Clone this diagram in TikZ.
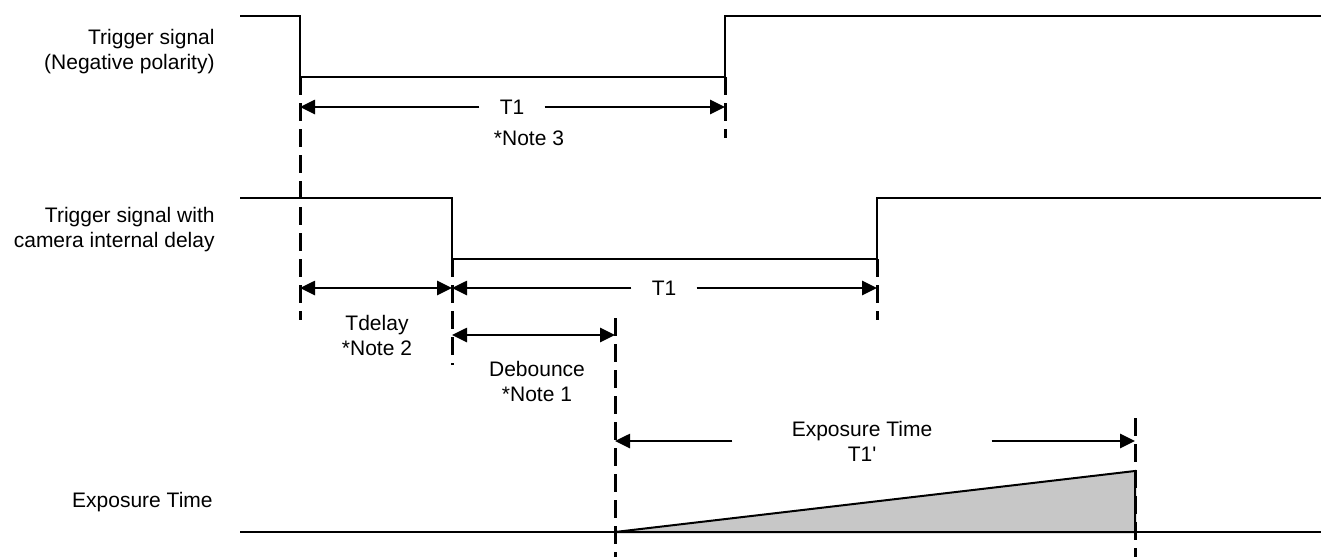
\documentclass[tikz,border=0pt]{standalone}
\usepackage{fontspec}
\setmainfont{Liberation Sans}[Ligatures=TeXOff]
\usetikzlibrary{positioning,arrows.meta}

\begin{document}
\begin{tikzpicture}[
  x=0.5pt, y=-0.5pt,
  font=\fontsize{10.5}{12.5}\selectfont,
  signal/.style={line width=1pt, line join=miter},
  marker/.style={line width=1.5pt, dash pattern=on 9pt off 4pt},
  dimarrow/.style={line width=1.3pt, -{Triangle[length=7.5pt, width=7pt]}},
  dimboth/.style={line width=1.3pt, {Triangle[length=7.5pt, width=7pt]}-{Triangle[length=7.5pt, width=7pt]}},
  lbl/.style={inner ysep=0pt, inner xsep=10pt, align=center},
  sigtitle/.style={anchor=east, inner sep=0pt, align=right}
]
\useasboundingbox (0,0) rectangle (1323,557);

% signal names
\node[sigtitle] (trig) at (215,52) {Trigger signal\\(Negative polarity)};
\node[sigtitle] (trigdelay) at (215,230) {Trigger signal with\\camera internal delay};
\node[sigtitle] (expo) at (213,502) {Exposure Time};

% waveforms
\draw[signal] (240,16) -| (300,77) -| (725,16) -- (1321,16);
\draw[signal] (240,198) -| (452,259) -| (877,198) -- (1321,198);
\draw[signal] (240,532) -- (1321,532);
\draw[signal, fill=black!22] (615,532) -- (1135,471) -- (1135,532) -- cycle;

% edges
\coordinate (fall1) at (300,77);
\coordinate (rise1) at (725,77);
\coordinate (fall2) at (452,259);
\coordinate (rise2) at (877,259);
\coordinate (debend) at (615,318);
\coordinate (expend) at (1135,418);
\draw[marker] (fall1) -- ++(0,243);
\draw[marker] (rise1) -- ++(0,61);
\draw[marker] (fall2) -- ++(0,106);
\draw[marker] (rise2) -- ++(0,61);
\draw[marker] (debend) -- ++(0,240);
\draw[marker] (expend) -- ++(0,140);

% T1 of the trigger
\node[lbl] (t1top) at (512,107) {T1};
\node (note3) at (529,138) {*Note 3};
\draw[dimarrow] (t1top.west) -- (t1top.west -| fall1);
\draw[dimarrow] (t1top.east) -- (t1top.east -| rise1);

% delayed trigger
\node[lbl] (t1low) at (664,288) {T1};
\draw[dimboth] (fall1 |- t1low) -- (fall2 |- t1low);
\draw[dimarrow] (t1low.west) -- (t1low.west -| fall2);
\draw[dimarrow] (t1low.east) -- (t1low.east -| rise2);
\node[align=center] (tdelay) at (377,335) {Tdelay\\*Note 2};

% debounce
\coordinate (debrow) at (533,335);
\draw[dimboth] (fall2 |- debrow) -- (debend |- debrow);
\node[align=center] (debounce) at (537,381) {Debounce\\*Note 1};

% exposure
\node[lbl, inner xsep=29.5pt] (exptime) at (862,441) {Exposure Time\\T1'};
\draw[dimarrow] (exptime.west) -- (exptime.west -| debend);
\draw[dimarrow] (exptime.east) -- (exptime.east -| expend);
\end{tikzpicture}
\end{document}
